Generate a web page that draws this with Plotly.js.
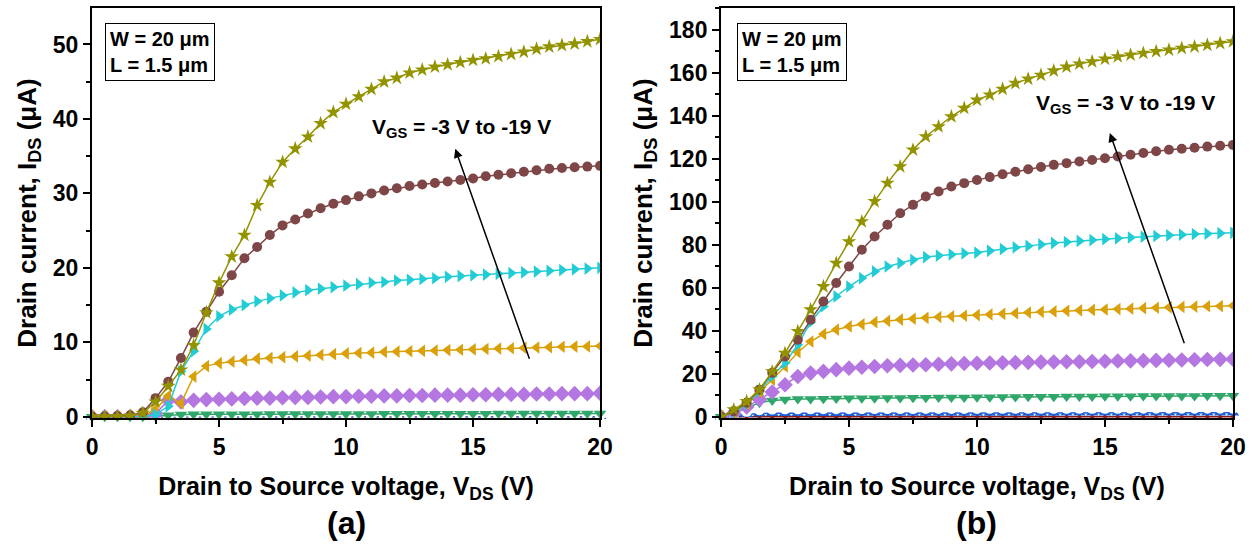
<!DOCTYPE html>
<html>
<head>
<meta charset="utf-8">
<script src="https://cdn.plot.ly/plotly-3.0.1.min.js"></script>
<style>html,body{margin:0;padding:0;background:#fff;}#chart{width:1259px;height:548px;}</style>
</head>
<body>
<div id="chart"></div>
<script>
// Drain-to-source voltage (V)
const vds = [0,0.5,1,1.5,2,2.5,3,3.5,4,4.5,5,5.5,6,6.5,7,7.5,8,8.5,9,9.5,10,10.5,11,11.5,12,12.5,13,13.5,14,14.5,15,15.5,16,16.5,17,17.5,18,18.5,19,19.5,20];

// Panel (a) drain current (uA)
const a_red    = [0,0,0,0,0,0,0,0,0,0,0,0,0,0,0,0,0,0,0,0,0,0,0,0,0,0,0,0,0,0,0,0,0,0,0,0,0,0,0,0,0];
const a_blue   = [0,0,0,0,0,0.02,0.03,0.04,0.05,0.05,0.05,0.05,0.05,0.05,0.05,0.05,0.05,0.05,0.05,0.05,0.06,0.06,0.06,0.06,0.06,0.06,0.06,0.06,0.06,0.06,0.07,0.07,0.07,0.07,0.07,0.07,0.07,0.07,0.07,0.07,0.07];
const a_white  = [0,0,0,0,0,0.05,0.1,0.12,0.14,0.15,0.15,0.15,0.15,0.16,0.16,0.16,0.16,0.16,0.17,0.17,0.17,0.17,0.17,0.17,0.18,0.18,0.18,0.18,0.18,0.18,0.19,0.19,0.19,0.19,0.19,0.19,0.2,0.2,0.2,0.2,0.2];
const a_green  = [0,0,0,0,0,0.05,0.2,0.3,0.32,0.33,0.34,0.34,0.35,0.35,0.36,0.36,0.36,0.37,0.37,0.37,0.38,0.38,0.38,0.39,0.39,0.39,0.4,0.4,0.4,0.41,0.41,0.41,0.42,0.42,0.42,0.43,0.43,0.43,0.44,0.44,0.45];
const a_purple = [0,0,0,0,0.05,0.4,2.2,2.0,2.2,2.3,2.35,2.4,2.45,2.5,2.5,2.55,2.6,2.6,2.65,2.7,2.7,2.75,2.75,2.8,2.8,2.85,2.85,2.9,2.9,2.9,2.95,2.95,3.0,3.0,3.0,3.05,3.05,3.1,3.1,3.1,3.15];
const a_orange = [0,0,0,0,0.05,1.0,2.8,1.8,5.4,6.8,7.2,7.4,7.6,7.8,7.9,8.0,8.1,8.2,8.3,8.4,8.5,8.55,8.6,8.7,8.75,8.8,8.85,8.9,8.95,9.0,9.05,9.1,9.15,9.2,9.25,9.3,9.35,9.4,9.42,9.45,9.5];
const a_cyan   = [0,0,0,0,0.05,0.3,1.4,6.1,8.8,11.8,13.5,14.4,15.0,15.5,15.9,16.3,16.7,17.0,17.2,17.4,17.6,17.8,18.0,18.1,18.3,18.4,18.5,18.6,18.8,18.9,19.0,19.1,19.2,19.3,19.4,19.5,19.6,19.7,19.8,19.9,20.0];
const a_brown  = [0,0.02,0.1,0.2,0.6,2.5,4.7,7.9,11.3,14.1,16.8,19.0,21.3,22.8,24.4,25.7,26.5,27.3,28.0,28.6,29.1,29.6,30.0,30.4,30.7,31.0,31.2,31.4,31.6,31.8,32.0,32.3,32.5,32.7,32.9,33.1,33.3,33.4,33.5,33.6,33.7];
const a_olive  = [0,0,0.05,0.1,0.5,2.0,4.1,6.3,9.6,14.0,18.0,21.5,24.4,28.4,31.5,34.2,36.0,37.6,39.4,40.9,42.0,43.0,44.0,45.0,45.5,46.2,46.6,47.0,47.3,47.6,47.9,48.1,48.4,48.7,49.0,49.4,49.7,49.9,50.1,50.4,50.7];

// Panel (b) drain current (uA)
const b_red    = [0,0,0,0,0,0,0,0,0,0,0,0,0,0,0,0,0,0,0,0,0,0,0,0,0,0,0,0,0,0,0,0,0,0,0,0,0,0,0,0,0];
const b_blue   = [0,0.6,1.2,1.5,1.6,1.6,1.6,1.65,1.65,1.65,1.65,1.7,1.7,1.7,1.7,1.7,1.7,1.7,1.7,1.75,1.75,1.75,1.75,1.75,1.75,1.75,1.75,1.8,1.8,1.8,1.8,1.8,1.8,1.8,1.8,1.8,1.8,1.8,1.8,1.8,1.8];
const b_white  = [0,1.0,2.5,3.3,3.6,3.7,3.7,3.7,3.75,3.75,3.75,3.8,3.8,3.8,3.8,3.8,3.85,3.85,3.85,3.85,3.85,3.9,3.9,3.9,3.9,3.9,3.9,3.95,3.95,3.95,3.95,3.95,3.95,4.0,4.0,4.0,4.0,4.0,4.0,4.0,4.0];
const b_green  = [0,1.5,4.0,6.5,7.6,8.0,8.2,8.3,8.4,8.5,8.55,8.6,8.65,8.7,8.75,8.8,8.85,8.9,8.95,9.0,9.05,9.1,9.15,9.2,9.25,9.3,9.35,9.4,9.4,9.45,9.5,9.5,9.55,9.6,9.6,9.65,9.7,9.7,9.75,9.8,9.8];
const b_purple = [0,1.5,4.5,8.0,11.5,14.9,18.7,20.3,21.1,21.9,22.6,23.0,23.4,23.7,23.9,24.1,24.2,24.4,24.6,24.8,24.9,25.0,25.1,25.2,25.3,25.4,25.5,25.6,25.6,25.7,25.8,25.9,26.0,26.1,26.2,26.3,26.4,26.5,26.6,26.7,26.8];
const b_orange = [0,2.0,6.0,11.5,17.2,23.4,30.0,35.0,38.5,40.5,42.0,43.0,44.0,44.6,45.2,45.6,46.0,46.4,46.7,47.0,47.3,47.6,47.9,48.2,48.5,48.8,49.0,49.3,49.5,49.7,49.9,50.1,50.3,50.5,50.7,50.9,51.1,51.2,51.4,51.5,51.7];
const b_cyan   = [0,2.0,6.0,12.0,19.0,25.0,33.5,44.0,51.3,56.0,60.6,64.5,67.6,69.9,71.5,73.0,74.3,75.0,75.5,76.0,76.4,77.2,78.0,78.8,79.5,80.2,80.8,81.3,81.8,82.2,82.6,83.0,83.4,83.8,84.1,84.4,84.7,85.0,85.2,85.4,85.6];
const b_brown  = [0,2.5,6.5,12.6,20.5,28.0,35.8,45.1,53.6,62.2,69.9,77.7,83.9,89.3,94.7,98.6,102.5,104.8,107.1,108.7,110.2,111.5,112.8,114.0,115.2,116.2,117.2,118.0,118.8,119.5,120.3,121.1,121.9,122.7,123.5,124.2,124.7,125.2,125.7,126.1,126.5];
const b_olive  = [0,3.3,7.1,12.6,21.0,29.6,39.7,49.8,60.6,71.5,81.5,90.8,100.2,108.7,116.4,124.2,130.4,135.0,139.7,143.6,147.4,149.8,152.5,155.2,157.2,159.0,161.0,162.8,164.2,165.3,166.5,167.6,168.4,169.2,170.0,170.7,171.5,172.2,173.0,173.8,174.6];

// Tick labels
const xTicks = [0,5,10,15,20];
const aYTicks = [0,10,20,30,40,50];
const bYTicks = [0,20,40,60,80,100,120,140,160,180];

const seriesStyle = [
  {name:'VGS = -3 V',  color:'#8b1a1a', symbol:'circle',         size:4,  noclip:true},
  {name:'VGS = -5 V',  color:'#1f5fd6', symbol:'triangle-up',    size:11, noclip:true},
  {name:'VGS = -7 V',  color:'#ffffff', symbol:'circle',         size:11, noclip:true},
  {name:'VGS = -9 V',  color:'#2fa66a', symbol:'triangle-down',  size:11, noclip:true},
  {name:'VGS = -11 V', color:'#b476e0', symbol:'diamond',        size:12, noclip:false},
  {name:'VGS = -13 V', color:'#d9a009', symbol:'triangle-left',  size:11, noclip:false},
  {name:'VGS = -15 V', color:'#22ccd4', symbol:'triangle-right', size:11, noclip:false},
  {name:'VGS = -17 V', color:'#7e4646', symbol:'circle',         size:10, noclip:false},
  {name:'VGS = -19 V', color:'#939300', symbol:'star',           size:11, noclip:false}
];
const aData = [a_red,a_blue,a_white,a_green,a_purple,a_orange,a_cyan,a_brown,a_olive];
const bData = [b_red,b_blue,b_white,b_green,b_purple,b_orange,b_cyan,b_brown,b_olive];

const traces = [];
function addTraces(dataSet, xa, ya){
  dataSet.forEach((ys,i)=>{
    const s = seriesStyle[i];
    traces.push({
      x: vds, y: ys, xaxis: xa, yaxis: ya, type:'scatter', mode:'lines+markers',
      name: s.name, showlegend:false, cliponaxis: !s.noclip,
      line:{color:s.color, width:1.5},
      marker:{color:s.color, symbol:s.symbol, size:s.size, line:{width:0}}
    });
  });
}
addTraces(aData,'x','y');
addTraces(bData,'x2','y2');

const FONT = 'Liberation Sans, Arial, sans-serif';
const tickFont = {family:FONT, size:23, color:'#000', weight:'bold'};
const xTitleFont = {family:FONT, size:25, color:'#000', weight:'bold'};
const yTitleFont = {family:FONT, size:26, color:'#000', weight:'bold'};

function xAxis(domain, anchor){
  return {
    domain: domain, anchor: anchor, range:[0,20],
    tickvals: xTicks, ticktext: xTicks.map(String),
    ticks:'outside', ticklen:7, tickwidth:2, tickcolor:'#000',
    minor:{dtick:2.5, tick0:0, ticks:'outside', ticklen:4, tickwidth:2, tickcolor:'#000'},
    showline:true, linewidth:2, linecolor:'#000', mirror:true,
    showgrid:false, zeroline:false, tickfont:tickFont,
    title:{text:'Drain to Source voltage, V<sub>DS</sub> (V)', font:xTitleFont, standoff:19},
    automargin:false
  };
}
function yAxis(domain, anchor, range, ticks, minorStep){
  return {
    domain: domain, anchor: anchor, range: range,
    tickvals: ticks, ticktext: ticks.map(String),
    ticks:'outside', ticklen:7, tickwidth:2, tickcolor:'#000',
    minor:{dtick:minorStep, tick0:0, ticks:'outside', ticklen:4, tickwidth:2, tickcolor:'#000'},
    showline:true, linewidth:2, linecolor:'#000', mirror:true,
    showgrid:false, zeroline:false, tickfont:tickFont,
    title:{text:'Drain current, I<sub>DS</sub> (\u03bcA)', font:yTitleFont, standoff:9},
    automargin:false
  };
}

const yDom = [0.2372, 0.9854];
const boxFont = {family:FONT, size:20, color:'#000', weight:'bold'};
const vgsFont = {family:FONT, size:21, color:'#000', weight:'bold'};
const panelFont = {family:FONT, size:32, color:'#000', weight:'bold'};
const layout = {
  width:1259, height:548,
  margin:{l:0, r:0, t:0, b:0},
  paper_bgcolor:'#fff', plot_bgcolor:'#fff',
  showlegend:false,
  xaxis: xAxis([0.0731,0.4766],'y'),
  yaxis: yAxis(yDom,'x',[-0.17,54.9],aYTicks,5),
  xaxis2: xAxis([0.5727,0.9793],'y2'),
  yaxis2: yAxis(yDom,'x2',[-0.6,190.2],bYTicks,10),
  annotations:[
    {xref:'x domain', yref:'y domain', x:0.025, y:0.963, xanchor:'left', yanchor:'top',
     text:'W = 20 \u03bcm<br>L = 1.5 \u03bcm', align:'left', showarrow:false, font:boxFont,
     bordercolor:'#000', borderwidth:1, borderpad:4, bgcolor:'#fff'},
    {xref:'x2 domain', yref:'y2 domain', x:0.031, y:0.963, xanchor:'left', yanchor:'top',
     text:'W = 20 \u03bcm<br>L = 1.5 \u03bcm', align:'left', showarrow:false, font:boxFont,
     bordercolor:'#000', borderwidth:1, borderpad:4, bgcolor:'#fff'},
    {xref:'x', yref:'y', x:14.55, y:38.8, text:'V<sub>GS</sub> = -3 V to -19 V', showarrow:false, font:vgsFont},
    {xref:'x2', yref:'y2', x:15.8, y:145.5, text:'V<sub>GS</sub> = -3 V to -19 V', showarrow:false, font:vgsFont},
    {xref:'x', yref:'y', x:14.3, y:36.0, axref:'x', ayref:'y', ax:17.24, ay:7.6,
     showarrow:true, arrowhead:2, arrowsize:1.2, arrowwidth:1.5, arrowcolor:'#000', text:''},
    {xref:'x2', yref:'y2', x:15.19, y:132, axref:'x2', ayref:'y2', ax:18.12, ay:33.5,
     showarrow:true, arrowhead:2, arrowsize:1.2, arrowwidth:1.5, arrowcolor:'#000', text:''},
    {xref:'x domain', yref:'paper', x:0.5, y:0.046, text:'(a)', showarrow:false, yanchor:'middle', font:panelFont},
    {xref:'x2 domain', yref:'paper', x:0.5, y:0.046, text:'(b)', showarrow:false, yanchor:'middle', font:panelFont}
  ]
};

Plotly.newPlot('chart', traces, layout, {staticPlot:true, displayModeBar:false});
</script>
</body>
</html>
